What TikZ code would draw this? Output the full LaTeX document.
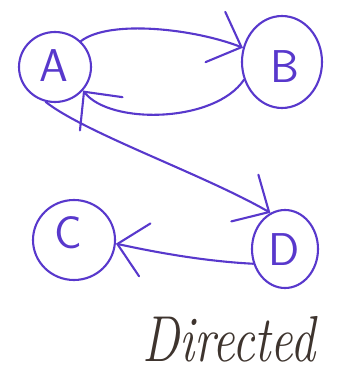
\documentclass[tikz,border=0pt]{standalone}
\usetikzlibrary{shapes.geometric,arrows.meta}
\definecolor{ink}{RGB}{88,56,204}
\definecolor{pencil}{RGB}{62,52,46}
\begin{document}
\begin{tikzpicture}[x=1pt,y=1pt,
  vertex/.style={draw=ink,ellipse,line width=2.1pt,inner sep=0pt},
  letter/.style={text=ink,font=\fontsize{46}{46}\selectfont\sffamily},
  edge/.style={draw=ink,line width=2.1pt,line cap=round,
    -{Straight Barb[length=28pt,width=54pt,line cap=round]}}]
\useasboundingbox (0,0) rectangle (344,381);
% vertices
\node[vertex,minimum width=72pt,minimum height=70pt] (A) at (55,314) {};
\node[vertex,minimum width=80pt,minimum height=92pt] (B) at (282,319) {};
\node[vertex,minimum width=82pt,minimum height=80pt] (C) at (74,141) {};
\node[vertex,minimum width=66pt,minimum height=78pt] (D) at (285,132) {};
\node[letter] (la) at (54,315) {A};
\node[letter] (lb) at (285,314) {B};
\node[letter] (lc) at (68,148) {C};
\node[letter] (ld) at (284,131) {D};
% directed edges
\draw[edge] (A.45) .. controls (110,362) and (195,352) .. (B.160);
\draw[edge] (B.205) .. controls (215,258) and (110,256) .. (A.-40);
\draw[edge] (A.255) .. controls (85,248) and (205,206) .. (D.112);
\draw[edge] (D.205) .. controls (200,120) and (150,130) .. (C.-5);
% caption
\node[text=pencil,font=\fontsize{50}{50}\selectfont\itshape] (cap) at (229,42)
  {\scalebox{1}[1.3]{Directed}};
\end{tikzpicture}
\end{document}
